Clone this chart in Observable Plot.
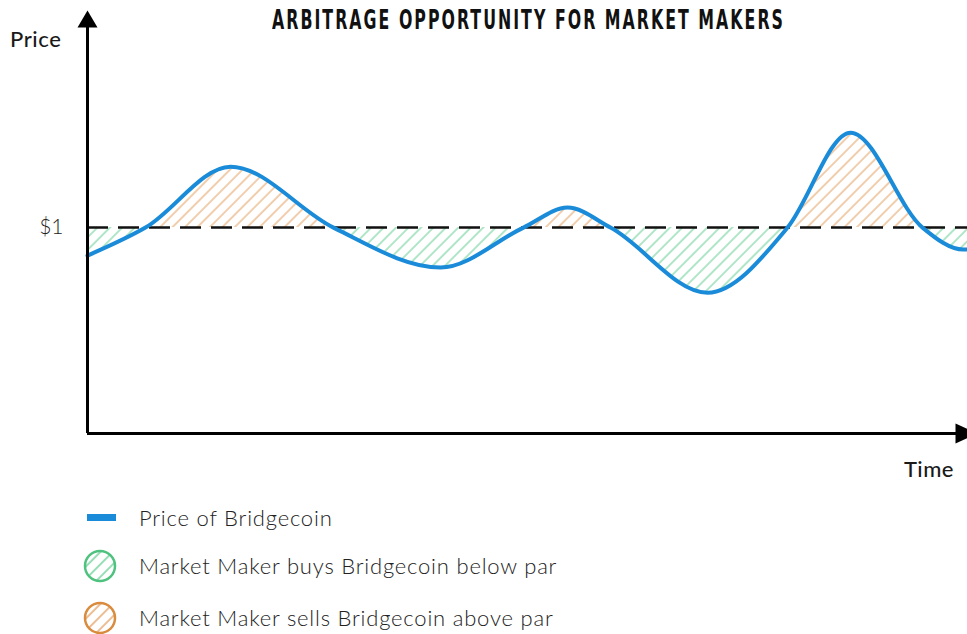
<!DOCTYPE html>
<html>
<head>
<meta charset="utf-8">
<script src="https://cdn.jsdelivr.net/npm/d3@7"></script>
<script src="https://cdn.jsdelivr.net/npm/@observablehq/plot@0.6"></script>
<style>
  html, body { margin: 0; padding: 0; background: #fff; }
  #wrap { position: relative; width: 967px; height: 634px; overflow: hidden; font-family: Lato, "Open Sans", sans-serif; color: #1a1a1a; }
  #chart { position: absolute; left: 0; top: 0; }
  .lbl { position: absolute; white-space: nowrap; }
  #title { left: 272px; top: 5px; font-family: "DejaVu Sans Condensed", "Liberation Sans Narrow", sans-serif; font-weight: 700; font-size: 26px; letter-spacing: 3px; color: #111; transform-origin: 0 0; }
  #price { left: 10px; top: 25px; font-size: 22px; font-weight: 500; letter-spacing: 0.6px; }
  #time { left: 904px; top: 455px; font-size: 22px; font-weight: 500; letter-spacing: 0.4px; }
  .leg { position: absolute; left: 0; width: 967px; height: 40px; }
  .leg svg { position: absolute; left: 80px; top: 0; }
  .leg span { position: absolute; left: 139px; top: 6px; font-size: 22px; font-weight: 300; color: #222; white-space: nowrap; letter-spacing: 0.8px; }
</style>
</head>
<body>
<div id="wrap">
  <div id="chart"></div>
  <div class="lbl" id="title">ARBITRAGE OPPORTUNITY FOR MARKET MAKERS</div>
  <div class="lbl" id="price">Price</div>
  <div class="lbl" id="time">Time</div>
  <div id="legend"></div>
</div>
<script>
// ---- data (turning points and par crossings) ----
const time  = [0, 58, 143, 246, 353, 436, 480, 523, 620, 700, 763, 835, 876, 880];
const price = [0.864, 1.0, 1.296, 1.0, 0.806, 1.0, 1.097, 1.0, 0.684, 1.0, 1.461, 1.0, 0.893, 0.893];
const parPrice = 1;
const parLabel = "$1";
const timeDomain = [0, 880];
const priceDomain = [0, 2.03];
const legendLabels = ["Price of Bridgecoin", "Market Maker buys Bridgecoin below par", "Market Maker sells Bridgecoin above par"];

const colors = { line: "#1a8bd8", green: "#62cd92", orange: "#e39d5c", greenRing: "#4fc27f", orangeRing: "#d98c3e" };

const data = time.map((t, i) => ({ t, p: price[i] }));
const curve = "monotone-x";

const upTri = { draw(ctx) { ctx.moveTo(0, -5); ctx.lineTo(10, 12); ctx.lineTo(-10, 12); ctx.closePath(); } };
const rightTri = { draw(ctx) { ctx.moveTo(10, 0); ctx.lineTo(-12, 10); ctx.lineTo(-12, -10); ctx.closePath(); } };

const plot = Plot.plot({
  width: 967, height: 490,
  marginLeft: 87, marginRight: 0, marginTop: 15, marginBottom: 57,
  x: { domain: timeDomain, axis: null },
  y: { domain: priceDomain, axis: null },
  style: { overflow: "visible" },
  marks: [
    Plot.areaY(data, { x: "t", y1: () => parPrice, y2: "p", curve, fill: "orange" }),
    Plot.areaY(data, { x: "t", y1: () => parPrice, y2: "p", curve, fill: "green" }),
    Plot.ruleY([parPrice], { x1: timeDomain[0], x2: timeDomain[1], stroke: "#111", strokeWidth: 2.5, strokeDasharray: "21,10" }),
    Plot.line(data, { x: "t", y: "p", curve, stroke: colors.line, strokeWidth: 4 }),
    Plot.ruleX([timeDomain[0]], { y1: 0, y2: priceDomain[1], stroke: "#000", strokeWidth: 3 }),
    Plot.ruleY([0], { x1: timeDomain[0], x2: timeDomain[1], stroke: "#000", strokeWidth: 3 }),
    Plot.dot([[timeDomain[0], priceDomain[1]]], { x: d => d[0], y: d => d[1], symbol: upTri, fill: "#000", stroke: "none", r: 5 }),
    Plot.dot([[timeDomain[1], 0]], { x: d => d[0], y: d => d[1], symbol: rightTri, fill: "#000", stroke: "none", r: 5 }),
    Plot.axisY([parPrice], { tickSize: 0, tickPadding: 24, fontSize: 21, tickFormat: () => parLabel, label: null })
  ]
});

const yPar = plot.scale("y").apply(parPrice);
const svg = d3.select(plot);
const defs = svg.insert("defs", ":first-child");
function hatch(defsSel, id, color, w) {
  const p = defsSel.append("pattern").attr("id", id).attr("patternUnits", "userSpaceOnUse")
    .attr("width", 8.8).attr("height", 8.8).attr("patternTransform", "rotate(45)");
  p.append("line").attr("x1", 1).attr("y1", 0).attr("x2", 1).attr("y2", 8.8)
    .attr("stroke", color).attr("stroke-width", w);
}
hatch(defs, "hatch-orange", colors.orange, 1);
hatch(defs, "hatch-green", colors.green, 1);
defs.append("clipPath").attr("id", "clip-above").append("rect").attr("x", 0).attr("y", 0).attr("width", 967).attr("height", yPar);
defs.append("clipPath").attr("id", "clip-below").append("rect").attr("x", 0).attr("y", yPar).attr("width", 967).attr("height", 490 - yPar);

// the two area marks: above par (orange), below par (green)
const areaGroups = svg.selectAll("g").filter(function () {
  const paths = this.querySelectorAll(":scope > path");
  return paths.length > 0 && (this.getAttribute("fill") === "orange" || this.getAttribute("fill") === "green");
}).nodes();
areaGroups.forEach(g => {
  const isAbove = g.getAttribute("fill") === "orange";
  const url = isAbove ? "url(#hatch-orange)" : "url(#hatch-green)";
  d3.select(g).attr("fill", url).attr("clip-path", isAbove ? "url(#clip-above)" : "url(#clip-below)");
  d3.select(g).selectAll("path").attr("fill", url);
});
svg.selectAll("text").style("font-family", "Lato, sans-serif").attr("fill", "#222").style("font-weight", 300);

document.getElementById("chart").appendChild(plot);

// fit the condensed title to the reference width
const title = document.getElementById("title");
const tw = title.getBoundingClientRect().width;
title.style.transform = `scaleX(${513 / tw})`;

// ---- legend ----
const legend = d3.select("#legend");
const rowsTop = [498, 546, 598];
const swatches = [
  { type: "line", color: colors.line },
  { type: "hatch", color: colors.greenRing, hatchColor: colors.green, id: "leg-green" },
  { type: "hatch", color: colors.orangeRing, hatchColor: colors.orange, id: "leg-orange" }
];
legendLabels.forEach((label, i) => {
  const row = legend.append("div").attr("class", "leg").style("top", rowsTop[i] + "px");
  const s = row.append("svg").attr("width", 40).attr("height", 40);
  const sw = swatches[i];
  if (sw.type === "line") {
    s.append("rect").attr("x", 7).attr("y", 16).attr("width", 29).attr("height", 7).attr("fill", sw.color);
  } else {
    const d = s.append("defs");
    hatch(d, sw.id, sw.hatchColor, 1.3);
    s.append("circle").attr("cx", 20).attr("cy", 20).attr("r", 15)
      .attr("fill", `url(#${sw.id})`).attr("stroke", sw.color).attr("stroke-width", 2.5);
  }
  row.append("span").text(label);
});
</script>
</body>
</html>
